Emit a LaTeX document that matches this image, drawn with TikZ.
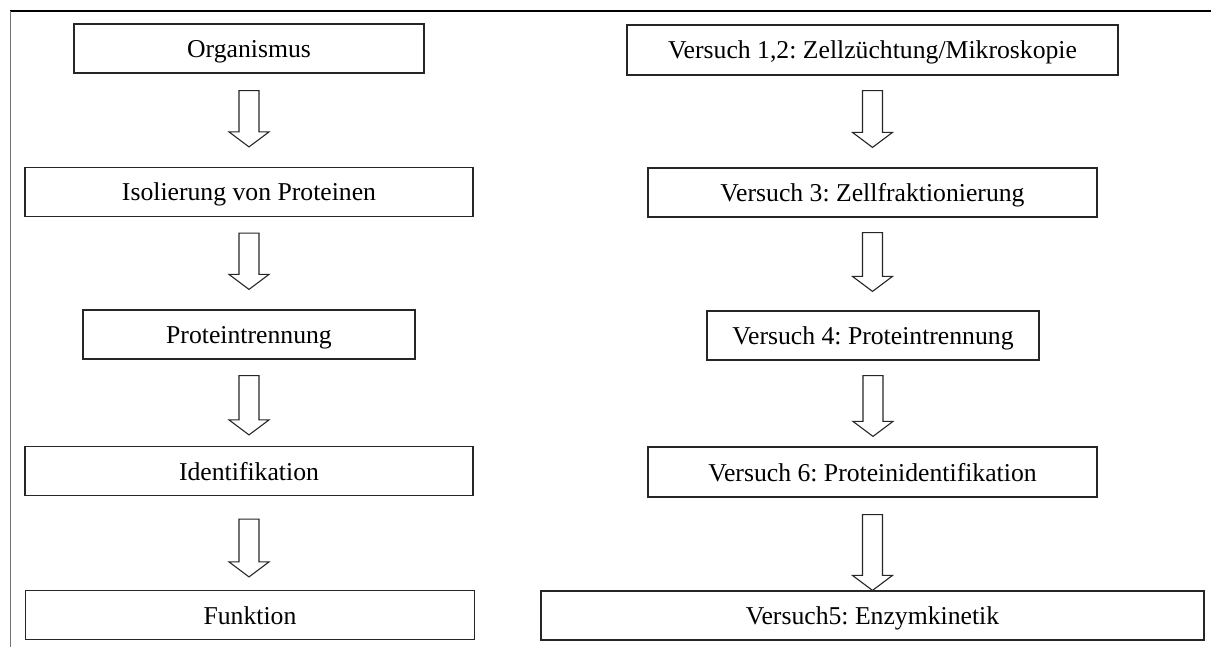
\documentclass[tikz,border=0pt]{standalone}
\usepackage{fontspec}
\setmainfont{Liberation Serif}
\usepackage{tikz}
\usetikzlibrary{calc}
\frenchspacing

% hollow block arrow between two boxes: #1 upper box, #2 lower box, #3 gap on top, #4 gap below
\newcommand\blockarrow[4]{%
  \draw[hollowarrow] let \p1=(#1.south), \p2=(#2.north) in
    (\x1-10pt,\y1-#3pt) -- (\x1+10pt,\y1-#3pt) -- (\x1+10pt,\y2+#4pt+15pt) -- (\x1+20pt,\y2+#4pt+15pt)
    -- (\x1,\y2+#4pt) -- (\x1-20pt,\y2+#4pt+15pt) -- (\x1-10pt,\y2+#4pt+15pt) -- cycle;}

\begin{document}
\begin{tikzpicture}[
    x=1pt, y=-1pt,
    box/.style={draw=black!85, line width=1.2pt, rectangle, minimum height=49pt, inner sep=0pt,
      text height=18pt, text depth=0pt, align=center, font=\fontsize{25.7}{30}\selectfont},
    hollowarrow/.style={draw=black!85, line width=1.1pt, fill=white, line join=miter}
]
    \useasboundingbox (0,0) rectangle (1211,647);

    % frame
    \draw[line width=1.3pt] (10,11) -- (1211,11);
    \draw[black!55, line width=1pt] (10,11) -- (10,647);

    % left column
    \node[box, minimum width=350pt] (org) at (249,48.5) {Organismus};
    \node[box, minimum width=448pt] (iso) at (249,192) {Isolierung von Proteinen};
    \node[box, minimum width=332pt] (trenn) at (249,334.5) {Proteintrennung};
    \node[box, minimum width=448pt] (ident) at (249,471) {Identifikation};
    \node[box, minimum width=449pt] (funk) at (250,615) {Funktion};

    % right column
    \node[box, minimum width=491pt, minimum height=50pt] (v12) at (872.5,50) {Versuch 1,2: Zellzüchtung/Mikroskopie};
    \node[box, minimum width=449pt] (v3) at (872.5,192.5) {Versuch 3: Zellfraktionierung};
    \node[box, minimum width=332pt] (v4) at (873,335.5) {Versuch 4: Proteintrennung};
    \node[box, minimum width=449pt, minimum height=50pt] (v6) at (872.5,472) {Versuch 6: Proteinidentifikation};
    \node[box, minimum width=663pt] (v5) at (872.5,615.5) {Versuch5: Enzymkinetik};

    \blockarrow{org}{iso}{17}{20}
    \blockarrow{iso}{trenn}{16}{20}
    \blockarrow{trenn}{ident}{16}{11}
    \blockarrow{ident}{funk}{23}{13}

    \blockarrow{v12}{v3}{15}{20}
    \blockarrow{v3}{v4}{15}{19}
    \blockarrow{v4}{v6}{15}{10}
    \blockarrow{v6}{v5}{17}{0}
\end{tikzpicture}
\end{document}
